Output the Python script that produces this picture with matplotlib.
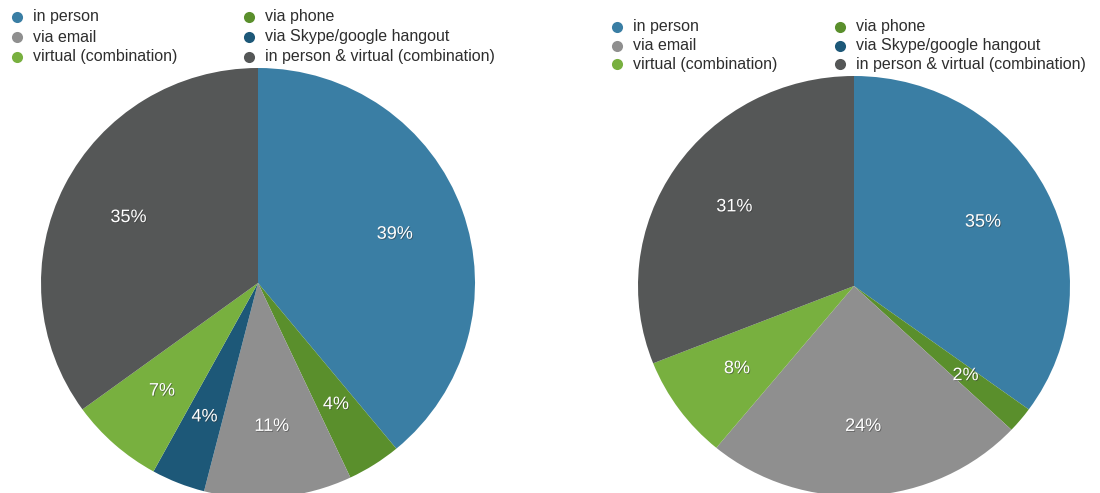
import matplotlib
matplotlib.use("Agg")
import matplotlib.pyplot as plt
import matplotlib.patheffects as pe

categories = ["in person", "via phone", "via email", "via Skype/google hangout",
              "virtual (combination)", "in person & virtual (combination)"]
left_values = [39, 4, 11, 4, 7, 35]
right_values = [35, 2, 24, 0, 8, 31]
colors = ["#3a7ea4", "#5a8f2c", "#8f8f8f", "#1d5878", "#78b03f", "#555757"]

plt.rcParams['font.family'] = ['Liberation Sans', 'DejaVu Sans']

W, H = 1100, 493
fig = plt.figure(figsize=(W / 100, H / 100), dpi=100)


def pie_axes(cx, cy, rx, ry):
    return fig.add_axes([(cx - rx) / W, (H - cy - ry) / H, 2 * rx / W, 2 * ry / H])


def draw_pie(ax, values):
    ax.pie(values, colors=colors, startangle=90, counterclock=False,
           autopct=lambda p: f"{p:.0f}%" if p > 0.5 else "",
           pctdistance=0.67, radius=1,
           wedgeprops=dict(linewidth=0),
           textprops=dict(color="white", fontsize=13,
                          path_effects=[pe.withSimplePatchShadow(offset=(0.6, -0.6),
                                                                 shadow_rgbFace="#333333",
                                                                 alpha=0.5)]))
    ax.set_xlim(-1, 1)
    ax.set_ylim(-1, 1)
    ax.set_aspect("auto")
    ax.axis("off")


draw_pie(pie_axes(258, 283, 217, 215), left_values)
draw_pie(pie_axes(854, 286, 216, 210), right_values)

# legends (overlay axes in pixel coordinates)
ov = fig.add_axes([0, 0, 1, 1])
ov.set_xlim(0, W)
ov.set_ylim(H, 0)
ov.axis("off")

legend_order = [0, 2, 4, 1, 3, 5]


def draw_legend(x0, x1, y0, dy):
    for k, idx in enumerate(legend_order):
        col = k // 3
        row = k % 3
        x = x0 if col == 0 else x1
        y = y0 + row * dy
        ov.plot([x], [y], "o", color=colors[idx], markersize=8, markeredgewidth=0)
        ov.text(x + 16, y, categories[idx], va="center", ha="left",
                fontsize=11.5, color="#2e2e2e")


draw_legend(17, 249, 17, 20)
draw_legend(617, 840, 27, 18.5)

fig.savefig("out.png", dpi=100)
